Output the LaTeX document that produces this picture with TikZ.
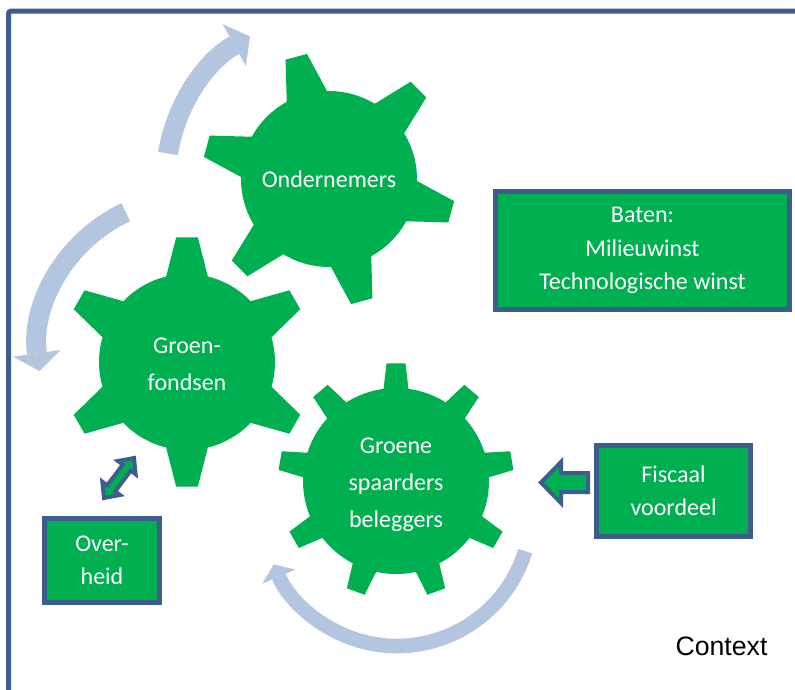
\documentclass[tikz,border=0pt]{standalone}
\usepackage{fontspec}
\setmainfont{Carlito}
\newfontfamily\ctxfont{Liberation Sans}
\usetikzlibrary{arrows.meta,positioning,calc}
\definecolor{geargreen}{RGB}{0,176,80}
\definecolor{edgeblue}{RGB}{61,93,143}
\definecolor{cycleblue}{RGB}{180,197,224}

% gear: center, teeth, offset, body radius, tip radius, half base angle, half tip angle
\newcommand{\gearwheel}[7]{%
  \fill[geargreen, shift={(#1)}] ({#3+360/#2-#6}:#4)
    \foreach \i [evaluate=\i as \t using #3+360*\i/#2] in {1,...,#2} {
      -- ({\t-#6}:#4) -- ({\t-#7}:#5) -- ({\t+#7}:#5) -- ({\t+#6}:#4)
      arc[start angle=\t+#6, delta angle=360/#2-2*#6, radius=#4]
    } -- cycle;
}

\begin{document}
\begin{tikzpicture}[
    x=0.75pt, y=-0.75pt,
    box/.style={rectangle, draw=edgeblue, line width=3.75pt, fill=geargreen, text=white, align=center, inner sep=0pt, font=\fontsize{18pt}{25pt}\selectfont},
    geartext/.style={text=white, align=center, font=\fontsize{18pt}{27.75pt}\selectfont},
    cyclearrow/.style={cycleblue, line width=15pt, -{Triangle[width=36pt, length=13.5pt, line width=0pt]}},
    blockarrow/.style={draw=edgeblue, line width=3pt, fill=geargreen, line join=miter}
]
\useasboundingbox (0,0) rectangle (795,689);

% Context frame
\draw[edgeblue, line width=3.75pt, rounded corners=2pt] (8.5,720) -- (8.5,11) -- (820,11);

% Gear centres
\coordinate (ondc) at (329,179);
\coordinate (grfc) at (187,362);
\coordinate (spac) at (396,481);

% Gears
\gearwheel{ondc}{6}{15}{88}{127}{13.7}{5}
\gearwheel{grfc}{6}{30}{88}{125}{13.7}{5}
\gearwheel{spac}{9}{30}{93}{118}{7.7}{4.6}

\node[geartext] (ond) at (ondc) {Ondernemers};
\node[geartext] (grf) at ([yshift=-2pt]grfc) {Groen-\\fondsen};
\node[geartext] (spa) at ([yshift=-3pt]spac) {Groene\\spaarders\\beleggers};

% Boxes
\node[box, minimum width=220.5pt, minimum height=88.5pt] (baten) at (642.5,250.5) {Baten:\\Milieuwinst\\Technologische winst};
\node[box, minimum width=115.5pt, minimum height=68.25pt] (fis) at (673.5,491) {Fiscaal\\voordeel};
\node[box, minimum width=86.25pt, minimum height=63pt] (ovh) at (102,560.5) {Over-\\heid};

\node[font=\ctxfont\fontsize{20pt}{24pt}\selectfont] (ctx) at (721.5,646) {Context};

% Cycle arrows
\draw[cyclearrow] ([shift={(-171:163)}]ond.center) arc[start angle=-171, end angle=-119, radius=163];
\draw[cyclearrow] ([shift={(-115:152)}]190,350) arc[start angle=-115, end angle=-188, radius=152];
\draw[cycleblue, line width=11pt, -{Triangle[width=27pt, length=10pt, line width=0pt]}]
  ([shift={(17:134)}]397,512) arc[start angle=17, end angle=157, radius=134];

% Fiscaal voordeel arrow
\draw[blockarrow] (588,473) -- (561,473) -- (561,462) -- (541,482.5) -- (561,503) -- (561,492) -- (588,492) -- cycle;

% Overheid <-> Groenfondsen
\coordinate (link) at (119,478);
\begin{scope}[shift={(link)}, rotate=53]
  \draw[blockarrow] (25,0) -- (13,11) -- (13,5) -- (-13,5) -- (-13,11) -- (-25,0)
    -- (-13,-11) -- (-13,-5) -- (13,-5) -- (13,-11) -- cycle;
\end{scope}

\end{tikzpicture}
\end{document}
